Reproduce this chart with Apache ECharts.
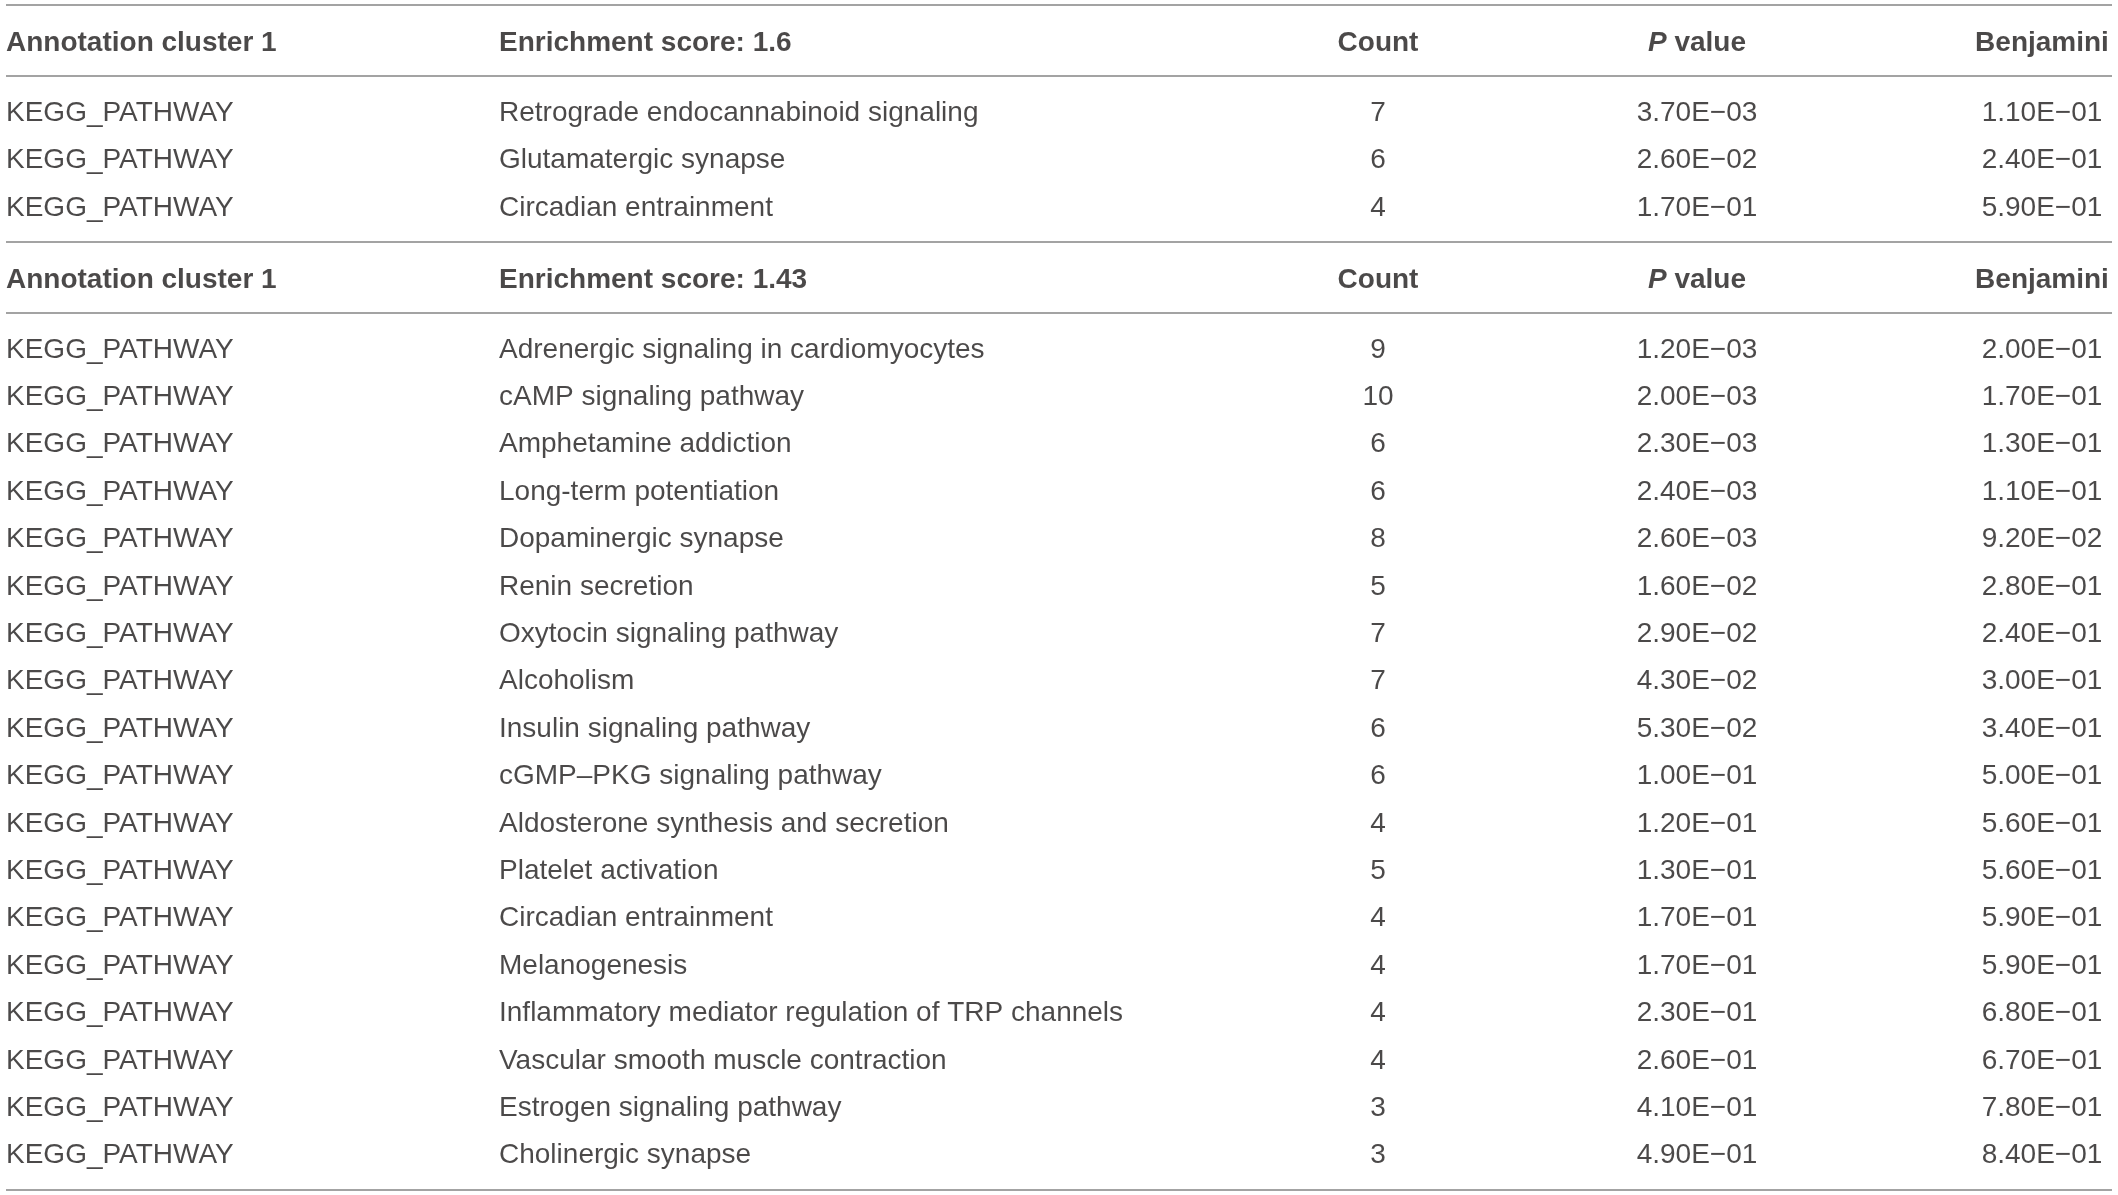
<!DOCTYPE html>
<html>
<head>
<meta charset="utf-8">
<style>
  html, body { margin: 0; padding: 0; background: #fff; }
  #main { width: 2118px; height: 1195px; }
</style>
<script src="https://cdn.jsdelivr.net/npm/echarts@6/dist/echarts.min.js"></script>
</head>
<body>
<div id="main"></div>
<script>
// table headers
var headerCols = ['Annotation cluster 1', null, 'Count', 'P value', 'Benjamini'];
var clusterScores = ['1.6', '1.43'];
var category = 'KEGG_PATHWAY';

// cluster 1
var terms1 = ['Retrograde endocannabinoid signaling', 'Glutamatergic synapse', 'Circadian entrainment'];
var counts1 = [7, 6, 4];
var pValues1 = [3.7e-3, 2.6e-2, 1.7e-1];
var benjamini1 = [1.1e-1, 2.4e-1, 5.9e-1];

// cluster 2
var terms2 = [
    'Adrenergic signaling in cardiomyocytes', 'cAMP signaling pathway', 'Amphetamine addiction',
    'Long-term potentiation', 'Dopaminergic synapse', 'Renin secretion', 'Oxytocin signaling pathway',
    'Alcoholism', 'Insulin signaling pathway', 'cGMP\u2013PKG signaling pathway',
    'Aldosterone synthesis and secretion', 'Platelet activation', 'Circadian entrainment',
    'Melanogenesis', 'Inflammatory mediator regulation of TRP channels',
    'Vascular smooth muscle contraction', 'Estrogen signaling pathway', 'Cholinergic synapse'
];
var counts2 = [9, 10, 6, 6, 8, 5, 7, 7, 6, 6, 4, 5, 4, 4, 4, 4, 3, 3];
var pValues2 = [1.2e-3, 2.0e-3, 2.3e-3, 2.4e-3, 2.6e-3, 1.6e-2, 2.9e-2, 4.3e-2, 5.3e-2, 1.0e-1,
    1.2e-1, 1.3e-1, 1.7e-1, 1.7e-1, 2.3e-1, 2.6e-1, 4.1e-1, 4.9e-1];
var benjamini2 = [2.0e-1, 1.7e-1, 1.3e-1, 1.1e-1, 9.2e-2, 2.8e-1, 2.4e-1, 3.0e-1, 3.4e-1, 5.0e-1,
    5.6e-1, 5.6e-1, 5.9e-1, 5.9e-1, 6.8e-1, 6.7e-1, 7.8e-1, 8.4e-1];

var clusters = [
    {score: clusterScores[0], terms: terms1, counts: counts1, p: pValues1, b: benjamini1},
    {score: clusterScores[1], terms: terms2, counts: counts2, p: pValues2, b: benjamini2}
];

// layout
var colX = [6, 499, 1378, 1697, 2042];
var colAlign = ['left', 'left', 'center', 'center', 'center'];
var rowH = 47.4;
var textShift = 2;
var textColor = '#1e1b1c';
var font = '"Liberation Sans", Arial, Helvetica, sans-serif';

//格式化科学计数法 3.70E−03
function sci(v) {
    var parts = v.toExponential(2).split('e');
    var exp = parseInt(parts[1], 10);
    var e = Math.abs(exp) < 10 ? '0' + Math.abs(exp) : '' + Math.abs(exp);
    return parts[0] + 'E' + (exp < 0 ? '\u2212' : '+') + e;
}

var cells = [];
var lineYs = [];
var y = 5;
clusters.forEach(function (c) {
    lineYs.push(y);
    var hy = y + 36 + textShift;
    var headerTexts = [headerCols[0], 'Enrichment score: ' + c.score, headerCols[2], '{it|P} value', headerCols[4]];
    headerTexts.forEach(function (t, i) {
        cells.push({name: t, value: [colX[i], hy], bold: true, col: i});
    });
    lineYs.push(y + 71);
    var ry = y + 106;
    c.terms.forEach(function (term, k) {
        var row = [category, term, '' + c.counts[k], sci(c.p[k]), sci(c.b[k])];
        row.forEach(function (t, i) {
            cells.push({name: t, value: [colX[i], ry + k * rowH + textShift], bold: false, col: i});
        });
    });
    y = ry + (c.terms.length - 1) * rowH + 36;
});
lineYs.push(y);

var data = cells.map(function (cell) {
    return {
        name: cell.name,
        value: cell.value,
        label: {
            align: colAlign[cell.col],
            fontWeight: cell.bold ? 'bold' : 'normal',
            fontSize: 28
        }
    };
});

var chart = echarts.init(document.getElementById('main'));
chart.setOption({
    animation: false,
    grid: {left: 6, right: 6, top: 0, bottom: 0},
    xAxis: {type: 'value', min: 6, max: 2112, show: false},
    yAxis: {type: 'value', min: 0, max: 1195, inverse: true, show: false},
    series: [{
        type: 'scatter',
        symbolSize: 0,
        silent: true,
        data: data,
        label: {
            show: true,
            position: 'inside',
            verticalAlign: 'middle',
            formatter: '{b}',
            color: textColor,
            textBorderWidth: 0,
            fontFamily: font,
            rich: {
                it: {fontStyle: 'italic', fontWeight: 'bold', fontSize: 28, color: textColor, fontFamily: font}
            }
        },
        emphasis: {disabled: true},
        markLine: {
            silent: true,
            symbol: ['none', 'none'],
            label: {show: false},
            lineStyle: {color: '#a3a3a3', width: 2, type: 'solid'},
            data: lineYs.map(function (ly) { return {yAxis: ly}; })
        }
    }]
});
</script>
</body>
</html>
